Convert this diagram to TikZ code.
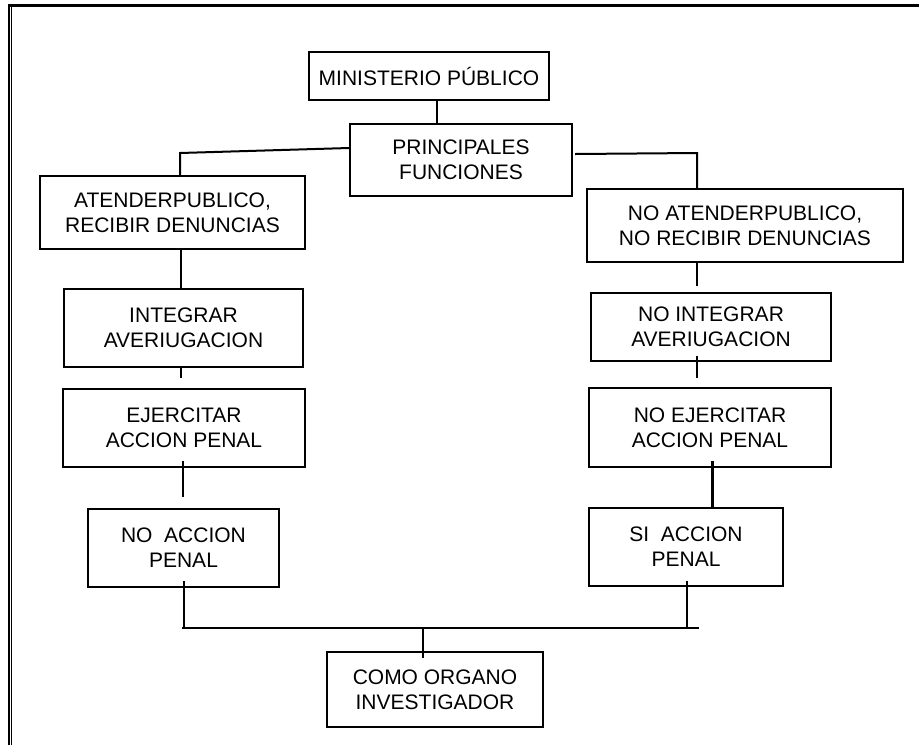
\documentclass[tikz,border=0pt]{standalone}
\usepackage{fontspec}
\setmainfont{Liberation Sans}
\begin{document}
\begin{tikzpicture}[x=0.5pt,y=-0.5pt,
  box/.style={draw,line width=1pt,inner sep=0pt,align=center,
    font=\fontsize{10.5pt}{12.6pt}\selectfont},
  conn/.style={line width=1pt}]
\useasboundingbox (0,0) rectangle (919,745);
% frame
\draw[line width=1.5pt] (8,5.5) -- (919,5.5);
\draw[line width=1.25pt] (9,4) -- (9,745);
\draw[line width=0.6pt] (11.7,6) -- (11.7,745);
% nodes
\node[box,minimum width=120pt,minimum height=24pt] (min) at (429,76) {MINISTERIO PÚBLICO};
\node[box,minimum width=111pt,minimum height=36pt] (pf) at (461,160) {PRINCIPALES\\FUNCIONES};
\node[box,minimum width=132.5pt,minimum height=36.5pt] (at) at (172.5,212.5) {ATENDERPUBLICO,\\RECIBIR DENUNCIAS};
\node[box,minimum width=119.5pt,minimum height=39pt] (in) at (183.5,328) {INTEGRAR\\AVERIUGACION};
\node[box,minimum width=121pt,minimum height=39pt] (ej) at (184,428) {EJERCITAR\\ACCION PENAL};
\node[box,minimum width=95.5pt,minimum height=39pt] (na) at (183.5,548) {NO~~ACCION\\PENAL};
\node[box,minimum width=158pt,minimum height=36.5pt] (nat) at (745,225.5) {NO ATENDERPUBLICO,\\NO RECIBIR DENUNCIAS};
\node[box,minimum width=120pt,minimum height=34pt] (nin) at (711,327) {NO INTEGRAR\\AVERIUGACION};
\node[box,minimum width=121pt,minimum height=39.5pt] (nej) at (710,427.5) {NO EJERCITAR\\ACCION PENAL};
\node[box,minimum width=97pt,minimum height=39pt] (si) at (686,547) {SI~~ACCION\\PENAL};
\node[box,minimum width=108pt,minimum height=37.5pt] (como) at (435,689.5) {COMO ORGANO\\INVESTIGADOR};
% connector points
\coordinate (lc) at (180,153);
\coordinate (rc) at (697,153);
\coordinate (bl) at (182,628);
\coordinate (br) at (699,628);
% connectors
\draw[conn] (437,0 |- min.south) -- (437,0 |- pf.north);
\draw[conn] ([yshift=6pt]pf.west) -- (lc) -- (lc |- at.north);
\draw[conn] ([shift={(1pt,3pt)}]pf.east) -- (rc) -- (rc |- nat.north);
\draw[conn] (181,0 |- at.south) -- (181,0 |- in.north);
\draw[conn,shorten <=-1pt,shorten >=5pt] (181,0 |- in.south) -- (181,0 |- ej.north);
\draw[conn,shorten <=-3.5pt,shorten >=5.5pt] (183,0 |- ej.south) -- (183,0 |- na.north);
\draw[conn,shorten <=-3.5pt] (184,0 |- na.south) -- (184,0 |- bl);
\draw[conn,shorten <=-1pt,shorten >=3pt] (697,0 |- nat.south) -- (697,0 |- nin.north);
\draw[conn,shorten <=-3pt,shorten >=4.5pt] (697,0 |- nin.south) -- (697,0 |- nej.north);
\draw[line width=1.5pt,shorten <=-3.5pt] (712,0 |- nej.south) -- (712,0 |- si.north);
\draw[conn,shorten <=-3pt] (687,0 |- si.south) -- (687,0 |- br);
\draw[conn] (bl) -- (br);
\draw[conn,shorten >=-3.5pt] (423,0 |- bl) -- (423,0 |- como.north);
\end{tikzpicture}
\end{document}
